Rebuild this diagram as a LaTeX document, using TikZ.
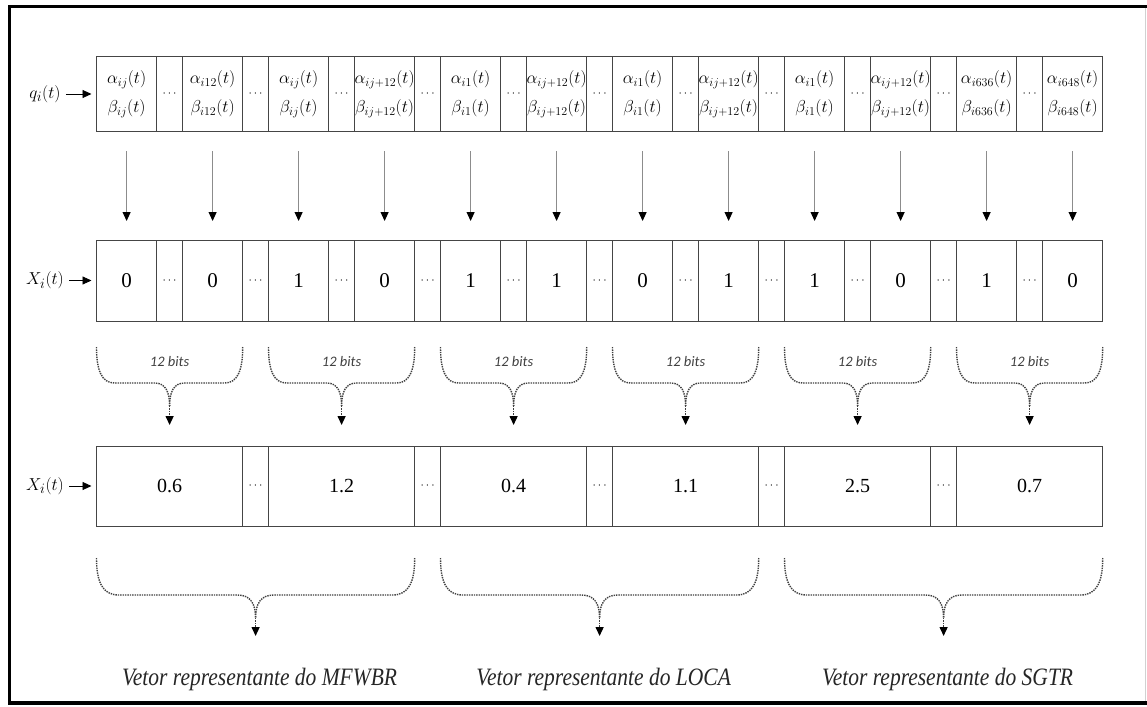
\documentclass[tikz,border=0pt]{standalone}
\usepackage{fontspec}
\setmainfont{Liberation Serif}
\newfontfamily\bitsfont{Carlito}
\usetikzlibrary{arrows.meta,positioning,calc}
\definecolor{cellline}{HTML}{454545}
\definecolor{bracegray}{HTML}{404040}
\newcommand{\bigw}{60.2}
\newcommand{\dotsw}{25.8}
\newcommand{\rowx}{96.5}

\begin{document}
\begin{tikzpicture}[x=1pt, y=-1pt, >={Triangle[width=8pt,length=9pt,color=black]},
  cell/.style={draw=cellline, line width=1pt, inner sep=0pt, outer sep=0pt, align=center},
  qcell/.style={cell, minimum height=74pt, font=\fontsize{17.5}{29}\selectfont},
  xcell/.style={cell, minimum height=81pt, font=\fontsize{21}{24}\selectfont},
  vcell/.style={cell, minimum height=80pt, font=\fontsize{20}{24}\selectfont},
  dotcell/.style={cell, minimum width=\dotsw pt, font=\fontsize{13}{15}\selectfont},
  lab/.style={font=\fontsize{19}{22}\selectfont, inner sep=0pt},
  bits/.style={font=\bitsfont\itshape\fontsize{14.5}{16}\selectfont, text=bracegray},
  brace/.style={draw=bracegray, densely dotted, line width=1.4pt},
  vlabel/.style={font=\fontsize{25}{30}\selectfont\itshape, xscale=0.86, text=black!85}]
  \useasboundingbox (0,0) rectangle (1147,706);
  % frame
  \draw[line width=3.5pt] (1147,6.5) -- (9.5,6.5) -- (9.5,703) -- (1147,703);
  \draw[black!18, line width=1pt] (1145,8) -- (1145,701);

  % row q_i(t)
  \foreach \s [count=\i from 0] in {ij,i12,ij,ij+12,i1,ij+12,i1,ij+12,i1,ij+12,i636,i648}{
    \pgfmathsetmacro\cx{\rowx+\i*(\bigw+\dotsw)+\bigw/2}
    \node[qcell, minimum width=\bigw pt] (q\i) at (\cx,94) {$\alpha_{\s}(t)$\\$\beta_{\s}(t)$};
  }
  \foreach \i in {0,...,10}{
    \pgfmathsetmacro\cx{\rowx+\i*(\bigw+\dotsw)+\bigw+\dotsw/2}
    \node[dotcell, minimum height=74pt] (qd\i) at (\cx,94) {$\cdots$};
  }

  % row X_i(t), bits
  \foreach \v [count=\i from 0] in {0,0,1,0,1,1,0,1,1,0,1,0}{
    \pgfmathsetmacro\cx{\rowx+\i*(\bigw+\dotsw)+\bigw/2}
    \node[xcell, minimum width=\bigw pt] (x\i) at (\cx,280.5) {\v};
  }
  \foreach \i in {0,...,10}{
    \pgfmathsetmacro\cx{\rowx+\i*(\bigw+\dotsw)+\bigw+\dotsw/2}
    \node[dotcell, minimum height=81pt] (xd\i) at (\cx,280.5) {$\cdots$};
  }

  % row X_i(t), values
  \foreach \v [count=\j from 0] in {0.6,1.2,0.4,1.1,2.5,0.7}{
    \pgfmathsetmacro\cx{\rowx+2*\j*(\bigw+\dotsw)+\bigw+\dotsw/2}
    \node[vcell, minimum width=2*\bigw pt+\dotsw pt] (v\j) at (\cx,486) {\v};
  }
  \foreach \j in {0,...,4}{
    \pgfmathsetmacro\cx{\rowx+(2*\j+1)*(\bigw+\dotsw)+\bigw+\dotsw/2}
    \node[dotcell, minimum height=80pt] (vd\j) at (\cx,486) {$\cdots$};
  }

  % left labels
  \node[lab] (qlab) at (45,94) {$q_i(t)$};
  \node[lab] (xlab) at (45,280.5) {$X_i(t)$};
  \node[lab] (vlab) at (45,486) {$X_i(t)$};
  \draw[->, line width=0.9pt, shorten <=5pt, shorten >=5pt] (qlab) -- (q0);
  \draw[->, line width=0.9pt, shorten <=5pt, shorten >=5pt] (xlab) -- (x0);
  \draw[->, line width=0.9pt, shorten <=5pt, shorten >=5pt] (vlab) -- (v0);

  % q -> X
  \foreach \i in {0,...,11}
    \draw[->, draw=black!45, line width=1pt, shorten <=20pt, shorten >=19pt] (q\i) -- (x\i);

  % braces of 12 bits
  \foreach \j in {0,...,5}{
    \pgfmathsetmacro\bl{\rowx+2*\j*(\bigw+\dotsw)}
    \pgfmathsetmacro\br{\bl+2*\bigw+\dotsw}
    \pgfmathsetmacro\bc{\bl+\bigw+\dotsw/2}
    \draw[brace] (\bl,347) .. controls (\bl,370) and (\bl+5,383) .. (\bl+18,383)
      -- (\bc-15,383) .. controls (\bc-4,383) and (\bc,392) .. (\bc,406);
    \draw[brace] (\br,347) .. controls (\br,370) and (\br-5,383) .. (\br-18,383)
      -- (\bc+15,383) .. controls (\bc+4,383) and (\bc,392) .. (\bc,406);
    \node[bits] (bits\j) at (\bc,362) {12 bits};
    \coordinate (bt\j) at (\bc,406);
    \draw[brace, ->, shorten >=21pt] (bt\j) -- (v\j);
  }

  % braces of the vectors
  \foreach \t [count=\k from 0] in {MFWBR,LOCA,SGTR}{
    \pgfmathsetmacro\bl{\rowx+4*\k*(\bigw+\dotsw)}
    \pgfmathsetmacro\br{\bl+4*\bigw+3*\dotsw}
    \pgfmathsetmacro\bc{(\bl+\br)/2}
    \draw[brace] (\bl,558) .. controls (\bl,582) and (\bl+6,595) .. (\bl+22,595)
      -- (\bc-18,595) .. controls (\bc-5,595) and (\bc,604) .. (\bc,618);
    \draw[brace] (\br,558) .. controls (\br,582) and (\br-6,595) .. (\br-22,595)
      -- (\bc+18,595) .. controls (\bc+5,595) and (\bc,604) .. (\bc,618);
    \coordinate (bb\k) at (\bc,618);
    \coordinate (ba\k) at (\bc,636);
    \draw[brace, ->] (bb\k) -- (ba\k);
    \node[vlabel] (lab\k) at (\bc+4,679) {Vetor representante do \t};
  }
\end{tikzpicture}
\end{document}
